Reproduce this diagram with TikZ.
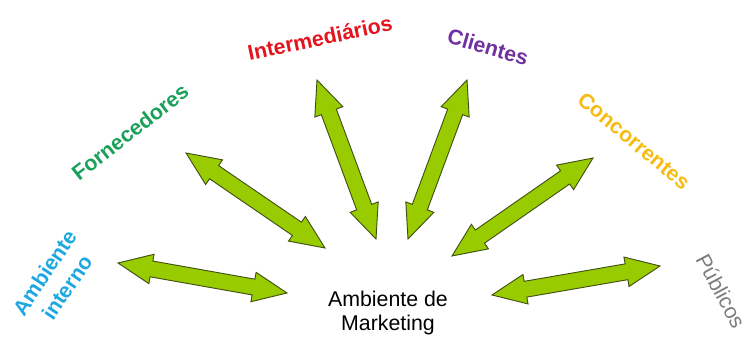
\documentclass[tikz,border=0pt]{standalone}
\usepackage{fontspec}
\setmainfont{Liberation Sans}
\usepackage{xcolor}
\usetikzlibrary{calc}

\definecolor{arrowgreen}{RGB}{153,204,0}
\definecolor{arrowedge}{RGB}{66,80,20}
\definecolor{intblue}{RGB}{30,168,226}
\definecolor{forgreen}{RGB}{26,160,88}
\definecolor{medred}{RGB}{228,20,30}
\definecolor{clipurple}{RGB}{112,48,160}
\definecolor{congold}{RGB}{246,188,20}
\definecolor{pubgray}{RGB}{125,125,125}

\begin{document}
\begin{tikzpicture}[x=0.75pt,y=-0.75pt,
    envlabel/.style={font=\bfseries\fontsize{16}{20}\selectfont, align=center},
    arrowbody/.style={fill=arrowgreen, draw=arrowedge, line width=0.7pt, line join=miter}]
    \useasboundingbox (0,0) rectangle (746,338);

    % Centre: the marketing environment
    \node[font=\fontsize{16}{18}\selectfont, align=center] (mkt) at (388,313) {Ambiente de\\Marketing};

    % Surrounding actors
    \node[envlabel, text=intblue, rotate=56] (interno) at (56,280) {Ambiente\\interno};
    \node[envlabel, text=forgreen, rotate=38] (fornec) at (130,132) {Fornecedores};
    \node[envlabel, text=medred, rotate=12] (interm) at (320,38) {Intermediários};
    \node[envlabel, text=clipurple, rotate=-16] (clientes) at (488,47) {Clientes};
    \node[envlabel, text=congold, rotate=-40] (concor) at (634,141) {Concorrentes};
    \node[font=\fontsize{16}{20}\selectfont, text=pubgray, rotate=-62] (publicos) at (721,291) {Públicos};

    % Arrow tips
    \coordinate (int1) at (118,263); \coordinate (int2) at (287,293);
    \coordinate (for1) at (186,153); \coordinate (for2) at (325,248);
    \coordinate (med1) at (317,80);  \coordinate (med2) at (376,239);
    \coordinate (cli1) at (467,80);  \coordinate (cli2) at (408,239);
    \coordinate (con1) at (593,158); \coordinate (con2) at (452,256);
    \coordinate (pub1) at (660,266); \coordinate (pub2) at (492,295);

    % Double arrows
    \foreach \a/\b in {int1/int2, for1/for2, med1/med2, cli1/cli2, con1/con2, pub1/pub2}
      \draw[arrowbody] (\a)
        -- ($(\a)!25.5pt!(\b)!11.2pt!90:(\b)$)
        -- ($(\a)!25.5pt!(\b)!6pt!90:(\b)$)
        -- ($(\b)!25.5pt!(\a)!6pt!-90:(\a)$)
        -- ($(\b)!25.5pt!(\a)!11.2pt!-90:(\a)$)
        -- (\b)
        -- ($(\b)!25.5pt!(\a)!11.2pt!90:(\a)$)
        -- ($(\b)!25.5pt!(\a)!6pt!90:(\a)$)
        -- ($(\a)!25.5pt!(\b)!6pt!-90:(\b)$)
        -- ($(\a)!25.5pt!(\b)!11.2pt!-90:(\b)$)
        -- cycle;
\end{tikzpicture}
\end{document}
